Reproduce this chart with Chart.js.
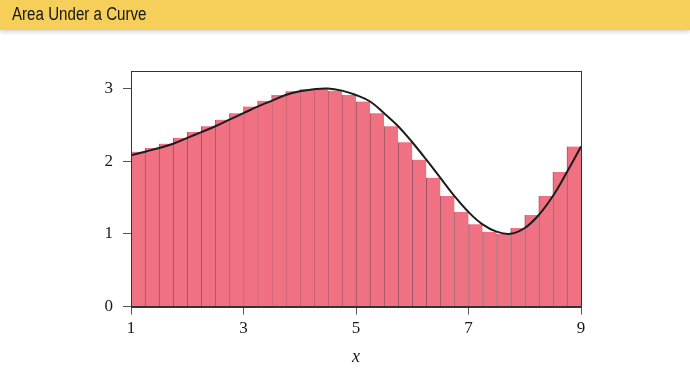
<!DOCTYPE html>
<html>
<head>
<meta charset="utf-8">
<script src="https://cdn.jsdelivr.net/npm/chart.js@4"></script>
<style>
  html, body { margin: 0; padding: 0; background: #ffffff; }
  #wrap { position: relative; width: 690px; height: 388px; overflow: hidden; }
  #chart { position: absolute; left: 0; top: 0; }
  #head {
    position: absolute; left: 0; top: 0; width: 690px; height: 30px;
    background: #f6cf5a; box-shadow: 0 2px 4px rgba(0,0,0,0.18); z-index: 2;
  }
  #head span {
    position: absolute; left: 12px; top: 4px; display: inline-block;
    font-family: "Liberation Sans", Arial, sans-serif; font-size: 18px; color: #151515;
    transform: scaleX(0.84); transform-origin: 0 50%; white-space: nowrap;
  }
</style>
</head>
<body>
<div id="wrap">
  <div id="head"><span>Area Under a Curve</span></div>
  <canvas id="chart" width="690" height="388"></canvas>
</div>
<script>
// Left edges of the rectangles (width 0.25 each)
const binStarts = [1, 1.25, 1.5, 1.75, 2, 2.25, 2.5, 2.75, 3, 3.25, 3.5, 3.75, 4, 4.25, 4.5, 4.75,
                   5, 5.25, 5.5, 5.75, 6, 6.25, 6.5, 6.75, 7, 7.25, 7.5, 7.75, 8, 8.25, 8.5, 8.75];
const binWidth = 0.25;
// Rectangle heights (right-endpoint values)
const barHeights = [2.13, 2.18, 2.24, 2.32, 2.40, 2.48, 2.57, 2.66, 2.75, 2.83, 2.91, 2.96, 2.99, 3.00, 2.97, 2.91,
                    2.82, 2.66, 2.48, 2.26, 2.02, 1.77, 1.52, 1.30, 1.13, 1.03, 1.00, 1.08, 1.26, 1.52, 1.85, 2.20];
// Curve samples
const curveX = [1, 1.25, 1.5, 1.75, 2, 2.25, 2.5, 2.75, 3, 3.25, 3.5, 3.75, 4, 4.25, 4.5, 4.75, 5,
                5.25, 5.5, 5.75, 6, 6.25, 6.5, 6.75, 7, 7.25, 7.5, 7.75, 8, 8.25, 8.5, 8.75, 9];
const curveY = [2.08, 2.13, 2.18, 2.24, 2.32, 2.40, 2.48, 2.57, 2.66, 2.75, 2.83, 2.91, 2.96, 2.99, 3.00, 2.97, 2.91,
                2.82, 2.66, 2.48, 2.26, 2.02, 1.77, 1.52, 1.30, 1.13, 1.03, 1.00, 1.08, 1.26, 1.52, 1.85, 2.20];
const xTicks = [1, 3, 5, 7, 9];
const yTicks = [0, 1, 2, 3];

const barData = binStarts.map((s, i) => ({ x: s + binWidth / 2, y: barHeights[i] }));
const lineData = curveX.map((x, i) => ({ x: x, y: curveY[i] }));

const framePlugin = {
  id: 'frame',
  afterDatasetsDraw(chart) {
    const { ctx, chartArea: a } = chart;
    ctx.save();
    ctx.strokeStyle = '#333333';
    ctx.lineWidth = 1;
    ctx.strokeRect(Math.round(a.left) + 0.5, Math.round(a.top) + 0.5,
                   Math.round(a.right - a.left), Math.round(a.bottom - a.top));
    ctx.restore();
  }
};

const serif = '"Liberation Serif", "Times New Roman", serif';

new Chart(document.getElementById('chart'), {
  type: 'bar',
  data: {
    datasets: [
      {
        type: 'line',
        data: lineData,
        borderColor: '#1c1c1c',
        borderWidth: 2,
        pointRadius: 0,
        tension: 0.4,
        fill: false,
        order: 0
      },
      {
        type: 'bar',
        data: barData,
        backgroundColor: '#f07181',
        borderColor: '#9a5560',
        borderWidth: { left: 1, right: 0, top: 0, bottom: 0 },
        borderSkipped: false,
        barPercentage: 1,
        categoryPercentage: 1,
        order: 1
      }
    ]
  },
  options: {
    responsive: false,
    animation: false,
    events: [],
    layout: { padding: { top: 71, right: 109, left: 0, bottom: 0 } },
    plugins: { legend: { display: false }, tooltip: { enabled: false } },
    scales: {
      x: {
        type: 'linear',
        min: 1, max: 9,
        offset: false,
        afterBuildTicks: s => { s.ticks = xTicks.map(v => ({ value: v })); },
        afterFit: s => { s.height = 81.5; },
        ticks: { font: { family: serif, size: 17 }, color: '#1a1a1a', padding: 4, maxRotation: 0 },
        grid: { drawOnChartArea: false, drawTicks: true, tickLength: 8, color: '#555', offset: false },
        border: { display: true, color: '#333', width: 1 },
        title: { display: true, text: 'x', font: { family: serif, size: 18, style: 'italic' }, color: '#1a1a1a', padding: { top: 0, bottom: 20 } }
      },
      y: {
        min: 0, max: 3.24,
        afterBuildTicks: s => { s.ticks = yTicks.map(v => ({ value: v })); },
        afterFit: s => { s.width = 131; },
        ticks: { font: { family: serif, size: 17 }, color: '#1a1a1a', padding: 10 },
        grid: { drawOnChartArea: false, drawTicks: true, tickLength: 8, color: '#555' },
        border: { display: true, color: '#333', width: 1 }
      }
    }
  },
  plugins: [framePlugin]
});
</script>
</body>
</html>
